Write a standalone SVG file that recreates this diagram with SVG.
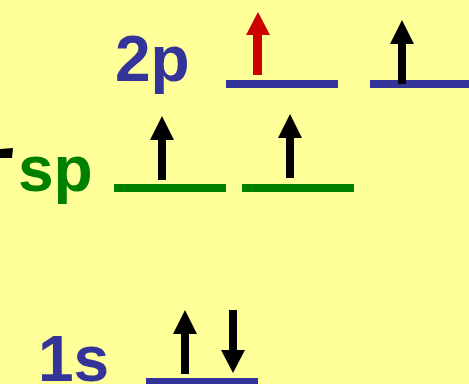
<svg xmlns="http://www.w3.org/2000/svg" width="469" height="384" viewBox="0 0 469 384">
  <style>
    .lbl { font-family: "Liberation Sans", Arial, sans-serif; font-weight: bold; font-size: 64px; }
    .blue { fill: #333399; }
    .green { fill: #008000; }
    .arrow { fill: #000000; }
    .red { fill: #cc0000; }
  </style>
  <rect width="469" height="384" fill="#ffff99"/>
  <!-- partial mark at left edge -->
  <polygon points="0,149 13,148 12,158 0,158" fill="#000"/>

  <g id="level-2p">
    <text class="lbl blue" x="115" y="81">2p</text>
    <rect class="blue" x="226" y="80" width="112" height="8"/>
    <rect class="blue" x="370" y="80" width="99" height="8"/>
    <polygon class="red" points="253,75 262,75 262,35 270,35 258,12 246,35 253,35"/>
    <polygon class="arrow" points="398,84 406,84 406,44 414,44 402,20 390,44 398,44"/>
  </g>

  <g id="level-sp">
    <text class="lbl green" x="18" y="191">sp</text>
    <rect class="green" x="114" y="184" width="112" height="8"/>
    <rect class="green" x="242" y="184" width="112" height="8"/>
    <polygon class="arrow" points="158,180 166,180 166,140 174,140 162,116 150,140 158,140"/>
    <polygon class="arrow" points="286,178 294,178 294,138 302,138 290,114 278,138 286,138"/>
  </g>

  <g id="level-1s">
    <text class="lbl blue" x="38" y="381">1s</text>
    <rect class="blue" x="146" y="378" width="112" height="8"/>
    <polygon class="arrow" points="181,374 189,374 189,334 197,334 185,310 173,334 181,334"/>
    <polygon class="arrow" points="229,310 237,310 237,350 245,350 233,373 221,350 229,350"/>
  </g>
</svg>
